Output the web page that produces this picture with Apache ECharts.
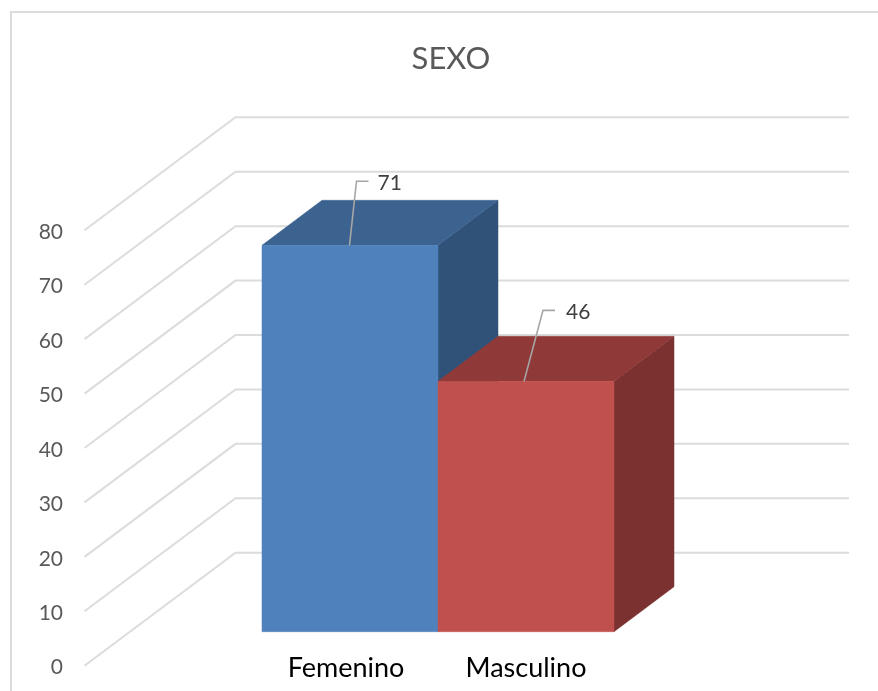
<!DOCTYPE html>
<html>
<head>
<meta charset="utf-8">
<title>SEXO</title>
<script src="https://cdn.jsdelivr.net/npm/echarts@6/dist/echarts.min.js"></script>
<style>
  html, body { margin: 0; padding: 0; background: #ffffff; }
  #chart { width: 878px; height: 691px; }
</style>
</head>
<body>
<div id="chart"></div>
<script>
// Chart content
const categories = ['Femenino', 'Masculino'];
const values = [71, 46];
const yTicks = [0, 10, 20, 30, 40, 50, 60, 70, 80];

// Face colours for each bar: front, top, side
const frontColors = ['#4F81BD', '#C0504D'];
const topColors = ['#3C6290', '#8F3A38'];
const sideColors = ['#305279', '#7B312F'];

// Oblique projection of the 3D box
const WALL_DX = 151, WALL_DY = 113;   // left wall depth
const WALL_FRONT_X = 84.5, WALL_END_X = 849;
const BAR_LIFT = 34;                  // bars sit above the front floor edge
const BAR_DX = 60, BAR_DY = 45;       // bar depth

// Leader line bends and label offsets, relative to the front-top edge centre
const leaders = [
  { foot: -0.5, bendX: 7, bendY: -64, endX: 19, textX: 28 },
  { foot: -2, bendX: 19, bendY: -71, endX: 31, textX: 42 }
];

const gridColor = '#DCDCDC';

function renderWall(params, api) {
  const y = api.coord([0, api.value(1)])[1];
  return {
    type: 'polyline',
    silent: true,
    shape: { points: [
      [WALL_FRONT_X, y],
      [WALL_FRONT_X + WALL_DX, y - WALL_DY],
      [WALL_END_X, y - WALL_DY]
    ] },
    style: { stroke: gridColor, lineWidth: 2, fill: null }
  };
}

function renderBar(params, api) {
  const i = api.value(0);
  const top = api.coord([i, api.value(1)]);
  const base = api.coord([i, 0]);
  const w = api.size([1, 0])[0];
  const l = top[0] - w / 2, r = top[0] + w / 2;
  const t = top[1] - BAR_LIFT, b = base[1] - BAR_LIFT;
  const lead = leaders[i];
  const fx = top[0] + lead.foot;
  const face = (points, fill) => ({
    type: 'polygon',
    shape: { points },
    style: { fill, stroke: fill, lineWidth: 0.5 }
  });
  return {
    type: 'group',
    silent: true,
    children: [
      face([[r, t], [r + BAR_DX, t - BAR_DY], [r + BAR_DX, b - BAR_DY], [r, b]], sideColors[i]),
      face([[l, t], [l + BAR_DX, t - BAR_DY], [r + BAR_DX, t - BAR_DY], [r, t]], topColors[i]),
      face([[l, t], [r, t], [r, b], [l, b]], frontColors[i]),
      {
        type: 'polyline',
        shape: { points: [
          [fx, t],
          [fx + lead.bendX, t + lead.bendY],
          [fx + lead.endX, t + lead.bendY]
        ] },
        style: { stroke: '#A6A6A6', lineWidth: 1.6, fill: null }
      },
      {
        type: 'text',
        style: {
          x: fx + lead.textX,
          y: t + lead.bendY + 2,
          text: String(api.value(1)),
          fill: '#404040',
          font: '21px Lato',
          textAlign: 'left',
          textVerticalAlign: 'middle'
        }
      }
    ]
  };
}

const chart = echarts.init(document.getElementById('chart'), null, { renderer: 'canvas' });
chart.setOption({
  animation: false,
  backgroundColor: '#ffffff',
  title: {
    text: 'SEXO',
    left: 446,
    top: 38,
    textAlign: 'center',
    textStyle: { color: '#595959', fontFamily: 'Lato', fontSize: 31, fontWeight: 'normal' }
  },
  grid: { left: 262, width: 352, top: 230.3, height: 435.4 },
  xAxis: {
    type: 'category',
    data: categories,
    axisLine: { show: false },
    axisTick: { show: false },
    axisLabel: {
      interval: 0,
      hideOverlap: false,
      margin: -11,
      color: '#000000',
      fontFamily: 'Lato',
      fontSize: 27,
      formatter: (name, i) => (i === 0 ? '{first|' + name + '}' : name),
      rich: { first: { fontFamily: 'Lato', fontSize: 27, color: '#000000', padding: [0, 8, 0, 0] } }
    }
  },
  yAxis: {
    type: 'value',
    min: 0,
    max: 80,
    interval: 10,
    axisLine: { show: false },
    axisTick: { show: false },
    splitLine: { show: false },
    axisLabel: {
      margin: 199,
      color: '#595959',
      fontFamily: 'Lato',
      fontSize: 21,
      customValues: yTicks,
      formatter: v => '{tick|' + v + '}',
      rich: { tick: { fontFamily: 'Lato', fontSize: 21, color: '#595959', padding: [4, 0, 0, 0] } }
    }
  },
  graphic: [{
    type: 'polyline',
    silent: true,
    shape: { points: [[11, 691], [11, 12], [878, 12]] },
    style: { stroke: gridColor, lineWidth: 2, fill: null }
  }],
  series: [
    {
      type: 'custom',
      renderItem: renderWall,
      data: yTicks.map(v => [0, v]),
      encode: { x: 0, y: 1 },
      clip: false,
      z: 1
    },
    {
      type: 'custom',
      renderItem: renderBar,
      data: values.map((v, i) => [i, v]),
      encode: { x: 0, y: 1 },
      clip: false,
      z: 2
    }
  ]
});
</script>
</body>
</html>
